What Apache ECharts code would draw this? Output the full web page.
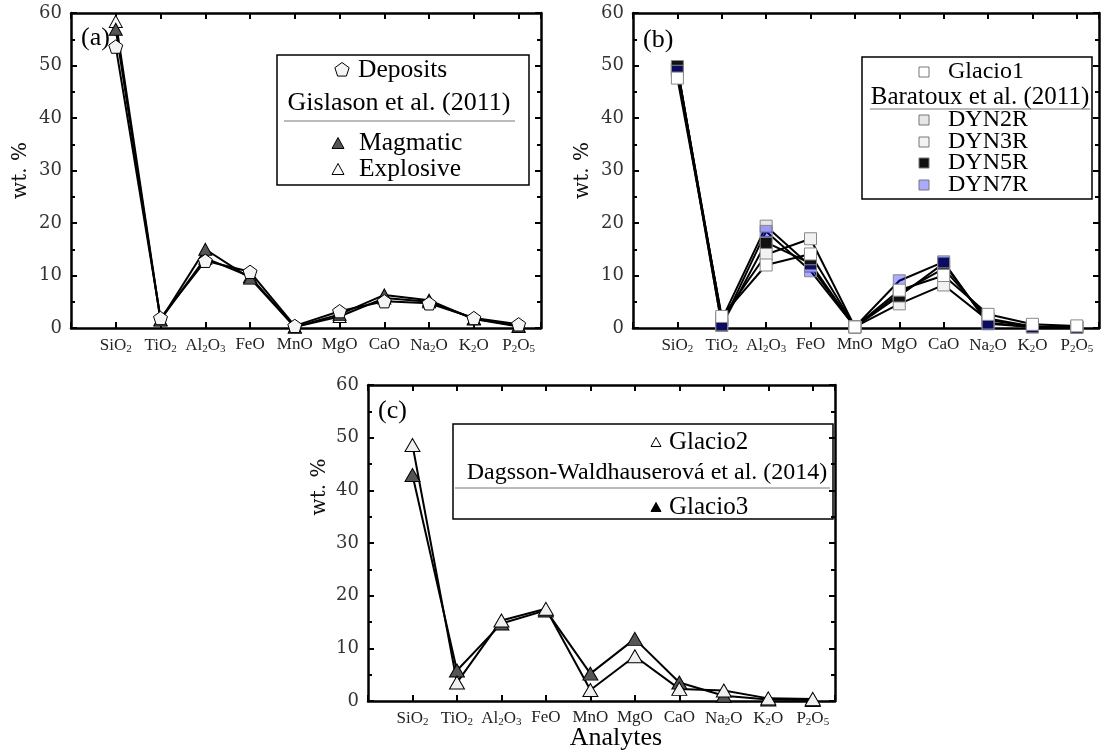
<!DOCTYPE html>
<html>
<head>
<meta charset="utf-8">
<script src="https://cdn.jsdelivr.net/npm/echarts@6/dist/echarts.min.js"></script>
<style>
html,body{margin:0;padding:0;background:#fff;}
#chart{width:1102px;height:756px;}
</style>
</head>
<body>
<div id="chart"></div>
<script>
// ---------- data ----------
const categories = ['SiO2','TiO2','Al2O3','FeO','MnO','MgO','CaO','Na2O','K2O','P2O5'];
const tickLabels = ['SiO{s|2}','TiO{s|2}','Al{s|2}O{s|3}','FeO','MnO','MgO','CaO','Na{s|2}O','K{s|2}O','P{s|2}O{s|5}'];
const yTicks = [0, 10, 20, 30, 40, 50, 60];

// panel (a)
const depositsA  = [53.6, 1.9, 12.8, 10.7, 0.4, 3.2, 5.1, 4.7, 1.9, 0.7];
const magmaticA  = [56.9, 1.5, 15.0, 9.5, 0.2, 2.6, 6.3, 5.3, 1.7, 0.3];
const explosiveA = [58.4, 1.6, 13.3, 9.8, 0.2, 2.2, 5.7, 5.0, 1.8, 0.4];

// panel (b)
const glacio1B = [47.6, 2.2, 12.0, 14.1, 0.2, 7.2, 10.0, 2.6, 0.7, 0.4];
const dyn2rB   = [49.5, 1.6, 19.4, 11.8, 0.2, 6.6, 11.3, 1.8, 0.3, 0.2];
const dyn3rB   = [49.4, 1.8, 14.0, 17.0, 0.2, 4.6, 8.2, 1.5, 0.3, 0.2];
const dyn5rB   = [49.8, 0.5, 16.3, 12.3, 0.2, 6.1, 12.3, 1.0, 0.2, 0.1];
const dyn7rB   = [48.9, 0.6, 18.4, 10.9, 0.2, 9.0, 12.6, 0.8, 0.2, 0.1];

// panel (c)
const glacio2C = [48.6, 3.5, 15.3, 17.5, 2.1, 8.5, 2.3, 2.0, 0.5, 0.4];
const glacio3C = [42.9, 5.8, 14.7, 17.2, 5.2, 11.8, 3.5, 1.0, 0.3, 0.2];

// ---------- helpers ----------
const SERIF = '"Liberation Serif", "DejaVu Serif", serif';
const NUMF = '"DejaVu Serif", serif';
const pentagonPath = 'path://M0,-10 L9.511,-3.09 L5.878,8.09 L-5.878,8.09 L-9.511,-3.09 Z';

function toPoints(vals){ return vals.map((v,i)=>[i+1, v]); }

const grids = [
  {left:71, top:13, width:470, height:315},
  {left:633, top:13, width:467, height:315},
  {left:368, top:385, width:467, height:316}
];

function xAx(g, pos){
  return {
    type:'value', gridIndex:g, position:pos, min:0, max:10.5, interval:1,
    axisLine:{show:true, onZero:false, lineStyle:{color:'#000', width:2.5}},
    axisTick:{show:true, inside:true, length:6, lineStyle:{color:'#000', width:2}},
    splitLine:{show:false},
    axisLabel:{
      show: pos==='bottom', margin:8, fontFamily:SERIF, fontSize:17, color:'#222',
      formatter:function(v){ return (Number.isInteger(v) && v>=1 && v<=10) ? tickLabels[v-1] : ''; },
      rich:{ s:{fontFamily:SERIF, fontSize:11, color:'#222', padding:[8,0,0,0]} }
    }
  };
}
function yAx(g, pos, name){
  return {
    type:'value', gridIndex:g, position:pos, min:yTicks[0], max:yTicks[yTicks.length-1], interval:10,
    axisLine:{show:true, onZero:false, lineStyle:{color:'#000', width:2.5}},
    axisTick:{show:true, inside:true, length:6, lineStyle:{color:'#000', width:2}},
    minorTick:{show:true, splitNumber:2, length:4, lineStyle:{color:'#000', width:2}},
    splitLine:{show:false}, minorSplitLine:{show:false},
    axisLabel:{show: pos==='left', margin:9, fontFamily:NUMF, fontSize:18, color:'#333'},
    name: name || '', nameLocation:'middle', nameGap:40, nameRotate:90,
    nameTextStyle:{fontFamily:NUMF, fontSize:20, color:'#111'}
  };
}

function ser(name, vals, g, symbol, size, fill, border, bw){
  return {
    name:name, type:'line', xAxisIndex:2*g, yAxisIndex:2*g,
    data: toPoints(vals), symbol:symbol, symbolSize:size, symbolKeepAspect:true,
    showAllSymbol:true, clip:false,
    lineStyle:{color:'#000', width:2},
    itemStyle:{color:fill, borderColor:border, borderWidth:bw, opacity:1},
    emphasis:{disabled:true}, animation:false
  };
}

// ---------- legends as graphics ----------
function txt(x,y,s,size,align,fam){
  return {type:'text', x:x, y:y, style:{text:s, font:size+'px '+(fam||SERIF), fill:'#000', textAlign:align||'left', textVerticalAlign:'middle'}};
}
function tri(cx,cy,w,h,fill,stroke){
  return {type:'polygon', shape:{points:[[cx,cy-h/2],[cx+w/2,cy+h/2],[cx-w/2,cy+h/2]]}, style:{fill:fill, stroke:stroke, lineWidth:1}};
}
function pent(cx,cy,r,fill,stroke){
  const pts=[];
  for(let k=0;k<5;k++){ const a=-Math.PI/2+k*2*Math.PI/5; pts.push([cx+r*Math.cos(a), cy+r*Math.sin(a)]); }
  return {type:'polygon', shape:{points:pts}, style:{fill:fill, stroke:stroke, lineWidth:1}};
}
function sq(cx,cy,s,fill,stroke){
  return {type:'rect', shape:{x:cx-s/2, y:cy-s/2, width:s, height:s}, style:{fill:fill, stroke:stroke, lineWidth:1}};
}
function box(x,y,w,h){
  return {type:'rect', shape:{x:x,y:y,width:w,height:h}, style:{fill:'#fff', stroke:'#000', lineWidth:1.5}};
}
function hline(x1,x2,y){
  return {type:'line', shape:{x1:x1,y1:y,x2:x2,y2:y}, style:{stroke:'#777', lineWidth:1}};
}

const graphics = [
  // panel labels
  txt(81,38,'(a)',26), txt(643,40,'(b)',26), txt(378,411,'(c)',26),
  // legend a
  box(277,55,252,130),
  pent(342,70,7.5,'#f5f5f5','#000'), txt(358,70,'Deposits',25.5),
  txt(399,103,'Gislason et al. (2011)',26,'center'), hline(284,515,121),
  tri(338,143,12,11,'#555','#000'), txt(359,143,'Magmatic',25.5),
  tri(338,169,12,11,'#fafafa','#000'), txt(359,169,'Explosive',25.5),
  // legend b
  box(862,57,230,142),
  sq(924,72,10,'#fff','#777'), txt(948,72,'Glacio1',24),
  txt(980,97,'Baratoux et al. (2011)',25,'center'), hline(870,1090,109),
  sq(924,120,10,'#e6e6e6','#777'), txt(948,120,'DYN2R',24),
  sq(924,142,10,'#f2f2f2','#777'), txt(948,142,'DYN3R',24),
  sq(924,163,10,'#111','#777'), txt(948,163,'DYN5R',24),
  sq(924,185,10,'#aaaaff','#777'), txt(948,185,'DYN7R',24),
  // legend c
  box(453,424,380,95),
  tri(656,442,10,9,'#fff','#000'), txt(669,442,'Glacio2',25),
  txt(647,473,'Dagsson-Waldhauserová et al. (2014)',24,'center'), hline(455,830,488),
  tri(656,507,10,9,'#000','#000'), txt(669,507,'Glacio3',25),
  // axis titles for panel c
  {type:'text', x:320, y:487, rotation:Math.PI/2, style:{text:'wt. %', font:'20px '+NUMF, fill:'#111', textAlign:'center', textVerticalAlign:'middle'}},
  txt(616,738,'Analytes',26,'center')
];

const option = {
  backgroundColor:'#fff',
  animation:false,
  grid: grids,
  xAxis: [xAx(0,'bottom'), xAx(0,'top'), xAx(1,'bottom'), xAx(1,'top'), xAx(2,'bottom'), xAx(2,'top')],
  yAxis: [yAx(0,'left','wt. %'), yAx(0,'right'), yAx(1,'left','wt. %'), yAx(1,'right'), yAx(2,'left'), yAx(2,'right')],
  series: [
    ser('Explosive', explosiveA, 0, 'triangle', [13,12], '#fafafa', '#000', 1),
    ser('Magmatic', magmaticA, 0, 'triangle', [13,12], '#555', '#000', 1),
    ser('Deposits', depositsA, 0, pentagonPath, 14, '#f5f5f5', '#000', 1),

    ser('DYN2R', dyn2rB, 1, 'rect', 12, '#e6e6e6', '#888', 1),
    ser('DYN3R', dyn3rB, 1, 'rect', 12, '#f2f2f2', '#888', 1),
    ser('DYN5R', dyn5rB, 1, 'rect', 12, '#111', '#888', 1),
    ser('DYN7R', dyn7rB, 1, 'rect', 12, 'rgba(0,0,255,0.33)', '#888', 1),
    ser('Glacio1', glacio1B, 1, 'rect', 12, '#fff', '#888', 1),

    ser('Glacio3', glacio3C, 2, 'triangle', [15,13], '#555', '#000', 1),
    ser('Glacio2', glacio2C, 2, 'triangle', [15,13], '#f0f0f0', '#000', 1)
  ],
  graphic: graphics
};

const chart = echarts.init(document.getElementById('chart'), null, {renderer:'canvas'});
chart.setOption(option);
</script>
</body>
</html>
